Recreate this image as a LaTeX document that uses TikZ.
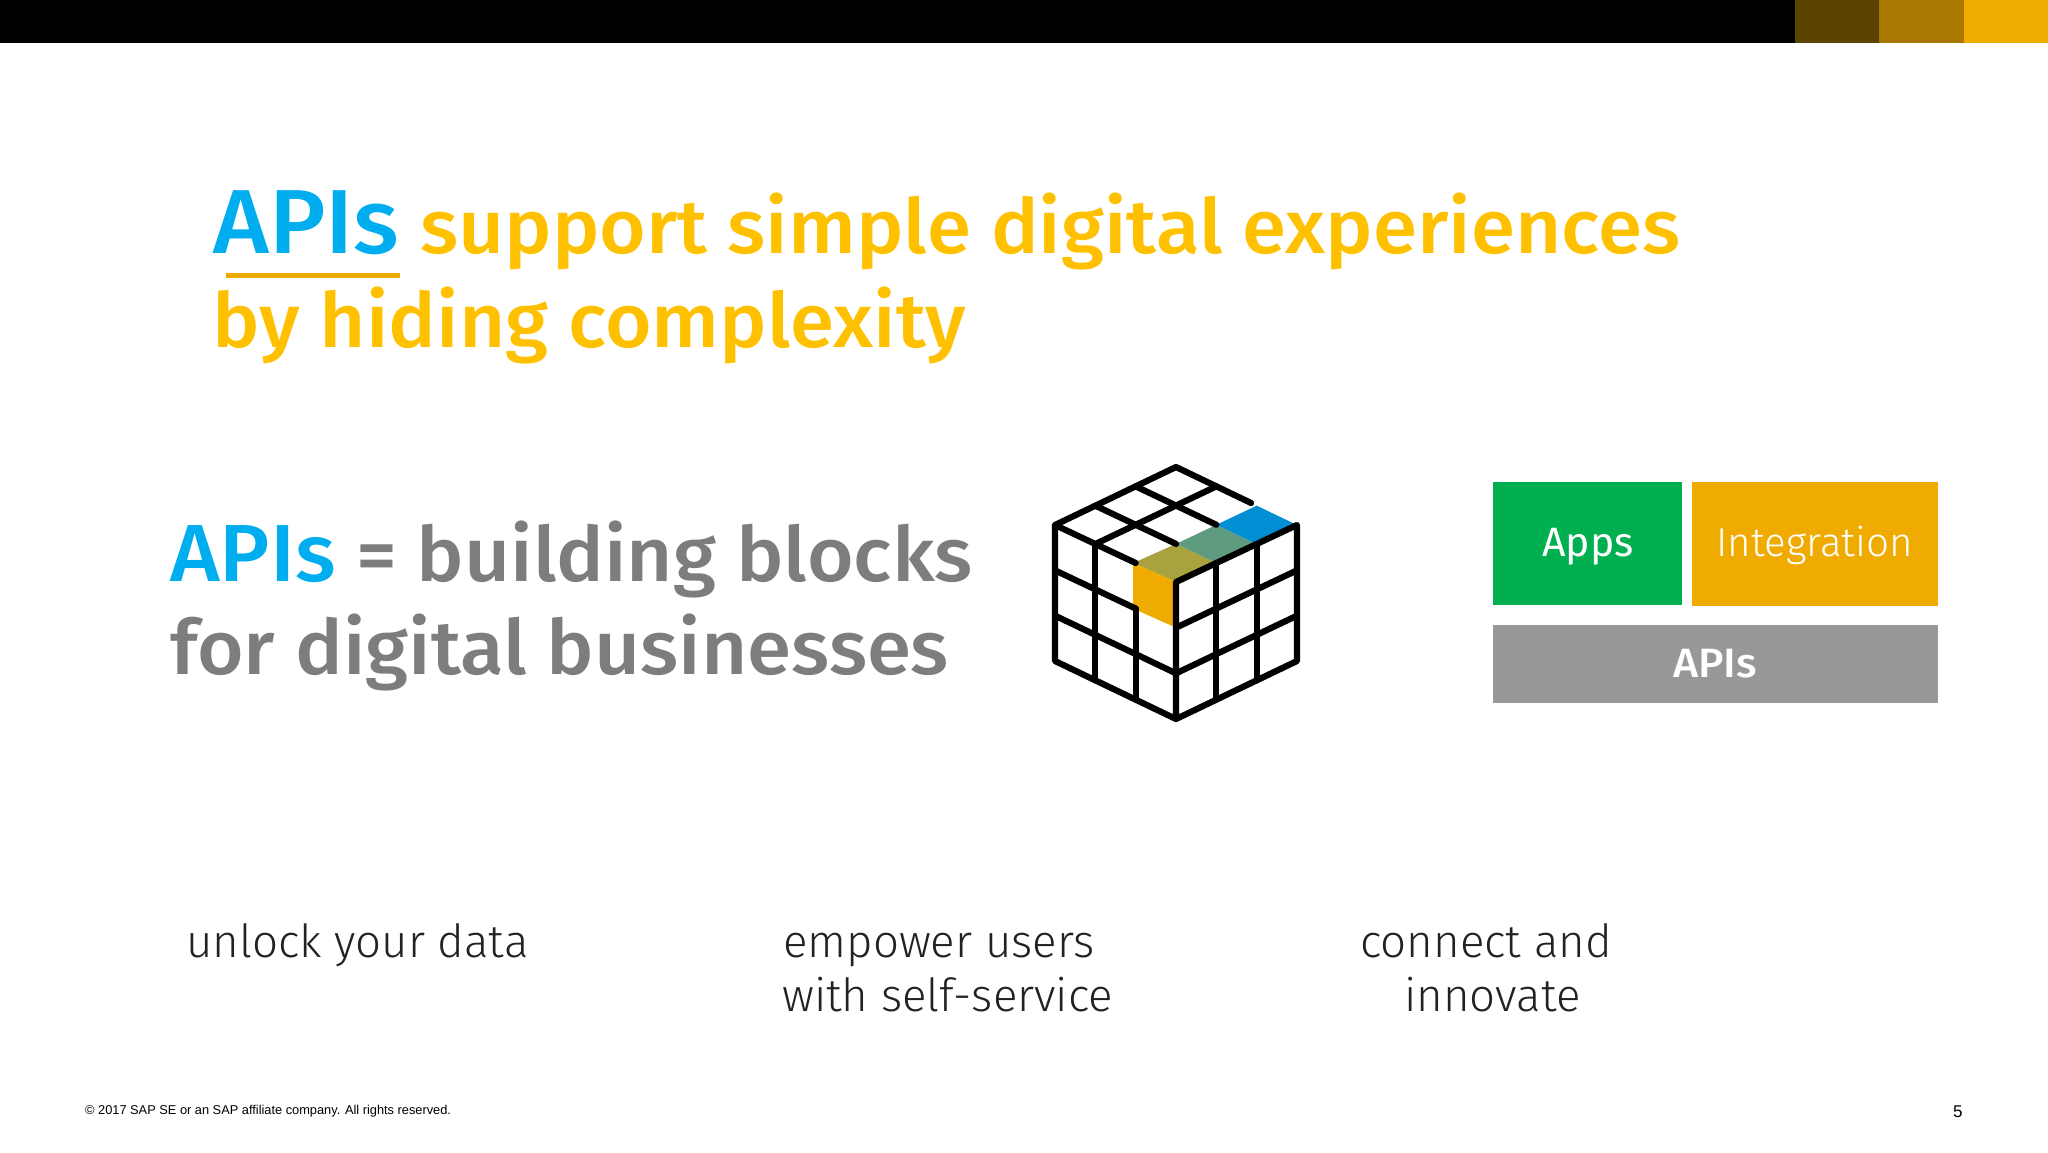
\documentclass[tikz,border=0pt]{standalone}
\usepackage{fontspec}
\setmainfont{Fira Sans}
\newfontfamily\medfont[FakeStretch=1.052]{Fira Sans Medium}
\newfontfamily\lightfont{Fira Sans Light}
\newfontfamily\footfont{Liberation Sans}
\usetikzlibrary{calc}

\definecolor{apiblue}{HTML}{00AEEF}
\definecolor{titleyellow}{HTML}{FFC000}
\definecolor{sapgold}{HTML}{F0AB00}
\definecolor{barbrown}{HTML}{5A4400}
\definecolor{barochre}{HTML}{A87800}
\definecolor{leadgray}{HTML}{7D7D80}
\definecolor{appgreen}{HTML}{00B050}
\definecolor{apigray}{HTML}{999799}
\definecolor{cellolive}{HTML}{A9A23F}
\definecolor{cellteal}{HTML}{5F9B7E}
\definecolor{cellblue}{HTML}{008FD3}
\definecolor{bodyblack}{HTML}{222222}

\newcommand{\pxfont}[1]{\fontsize{#1}{#1}\selectfont}

\tikzset{
  linetext/.style = {anchor = base west, inner sep = 0pt},
  titletext/.style = {linetext, text = titleyellow, font = \medfont\pxfont{76}},
  leadtext/.style = {linetext, text = leadgray, font = \medfont\pxfont{76}},
  bodytext/.style = {linetext, text = bodyblack, font = \lightfont\pxfont{45.6}},
  blockbox/.style = {inner sep = 0pt, text = white, anchor = north west},
  cubeline/.style = {line width = 6.2pt, line cap = round, line join = round},
}

\begin{document}
\begin{tikzpicture}[x = 1pt, y = -1pt]
  \useasboundingbox (0,0) rectangle (2048,1152);

  \fill[black] (0,0) rectangle (1795,42.5);
  \fill[barbrown] (1795,0) rectangle (1879,42.5);
  \fill[barochre] (1879,0) rectangle (1964,42.5);
  \fill[sapgold] (1964,0) rectangle (2048,42.5);

  \node[linetext, text = apiblue, font = \medfont\pxfont{91}] (titleapi) at (213,253) {APIs};
  \node[titletext] (title1) at (420,253) {support simple digital experiences};
  \node[titletext] (title2) at (212,347) {by hiding complexity};
  \coordinate (line1) at (226,275);
  \coordinate (line2) at (400,275);
  \draw[sapgold, line width = 5pt] (line1) -- (line2);

  \node[leadtext, text = apiblue, font = \medfont\pxfont{81}] (leadapi) at (170,581) {APIs};
  \node[leadtext] (lead1) at (356,581) {= building blocks};
  \node[leadtext] (lead2) at (170,674) {for digital businesses};

  \coordinate (top) at (1176,467);
  \coordinate (lft) at (1055,525);
  \coordinate (rgt) at (1297,525);
  \coordinate (mid) at (1176,582);
  \coordinate (lftb) at (1055,661);
  \coordinate (rgtb) at (1297,661);
  \coordinate (bot) at (1176,719);

  \coordinate (a) at ($(mid)!1/3!(lft)$);
  \coordinate (b) at ($(rgt)!1/3!(top)$);
  \coordinate (stop) at ($(rgt)!0.38!(top)$);
  \coordinate (lr) at ($(lft)!1/3!(lftb)$);
  \coordinate (mr) at ($(mid)!1/3!(bot)$);
  \coordinate (c) at ($(lr)!2/3!(mr)$);

  \fill[cellolive] ($(a)+(-2.5,0)$) -- (mid) -- ($(mid)!1/3!(rgt)$) -- ($(a)!1/3!(b)$) -- cycle;
  \fill[cellteal] ($(a)!1/3!(b)$) -- ($(mid)!1/3!(rgt)$) -- ($(mid)!2/3!(rgt)$) -- ($(a)!2/3!(b)$) -- cycle;
  \fill[cellblue] ($(a)!2/3!(b)$) -- ($(mid)!2/3!(rgt)$) -- (rgt) -- (b) -- cycle;
  \fill[sapgold] ($(a)+(-2.5,0)$) -- (mid) -- (mr) -- ($(c)+(-2.5,0)$) -- cycle;

  \draw[cubeline] (a) -- (lft) -- (top) -- (stop);
  \draw[cubeline] (lft) -- (lftb) -- (bot) -- (rgtb) -- (rgt) -- (mid) -- (bot);
  \draw[cubeline] ($(mid)!2/3!(lft)$) -- ($(rgt)!2/3!(top)$);
  \foreach \t in {1,2} {
    \draw[cubeline] ($(lft)!\t/3!(top)$) -- ($(a)!\t/3!(b)$);
    \draw[cubeline] ($(mid)!\t/3!(rgt)$) -- ($(bot)!\t/3!(rgtb)$);
    \draw[cubeline] ($(mid)!\t/3!(bot)$) -- ($(rgt)!\t/3!(rgtb)$);
  }
  \draw[cubeline] ($(lft)!1/3!(mid)$) -- ($(lftb)!1/3!(bot)$);
  \draw[cubeline] (c) -- ($(lftb)!2/3!(bot)$);
  \draw[cubeline] (lr) -- (c);
  \draw[cubeline] ($(lft)!2/3!(lftb)$) -- ($(mid)!2/3!(bot)$);

  \node[blockbox, fill = appgreen, minimum width = 189.4pt, minimum height = 122.3pt] (apps) at (1492.3,482) {};
  \node[blockbox, fill = sapgold, minimum width = 245.6pt, minimum height = 123.7pt] (integration) at (1691.7,482) {};
  \node[blockbox, fill = apigray, minimum width = 445pt, minimum height = 77.3pt] (apis) at (1492.3,625) {};
  \node[anchor = base, inner sep = 0pt, text = white, font = \pxfont{41}] (appstext) at (1588,556) {Apps};
  \node[anchor = base, inner sep = 0pt, text = white, font = \lightfont\pxfont{40.3}] (integrationtext) at (1814.5,556) {Integration};
  \node[anchor = base, inner sep = 0pt, text = white, font = \medfont\pxfont{41}] (apistext) at (1715,677) {APIs};

  \node[bodytext] (data) at (186,957) {unlock your data};
  \node[bodytext] (users1) at (783,957) {empower users};
  \node[bodytext] (users2) at (782,1011) {with self-service};
  \node[bodytext] (connect1) at (1360,957) {connect and};
  \node[bodytext] (connect2) at (1404,1011) {innovate};

  \node[linetext, font = \footfont\pxfont{12.8}] (copyright) at (85,1114) {© 2017 SAP SE or an SAP affiliate company. All rights reserved.};
  \node[linetext, font = \footfont\pxfont{17}] (pagenum) at (1953,1117) {5};
\end{tikzpicture}
\end{document}
